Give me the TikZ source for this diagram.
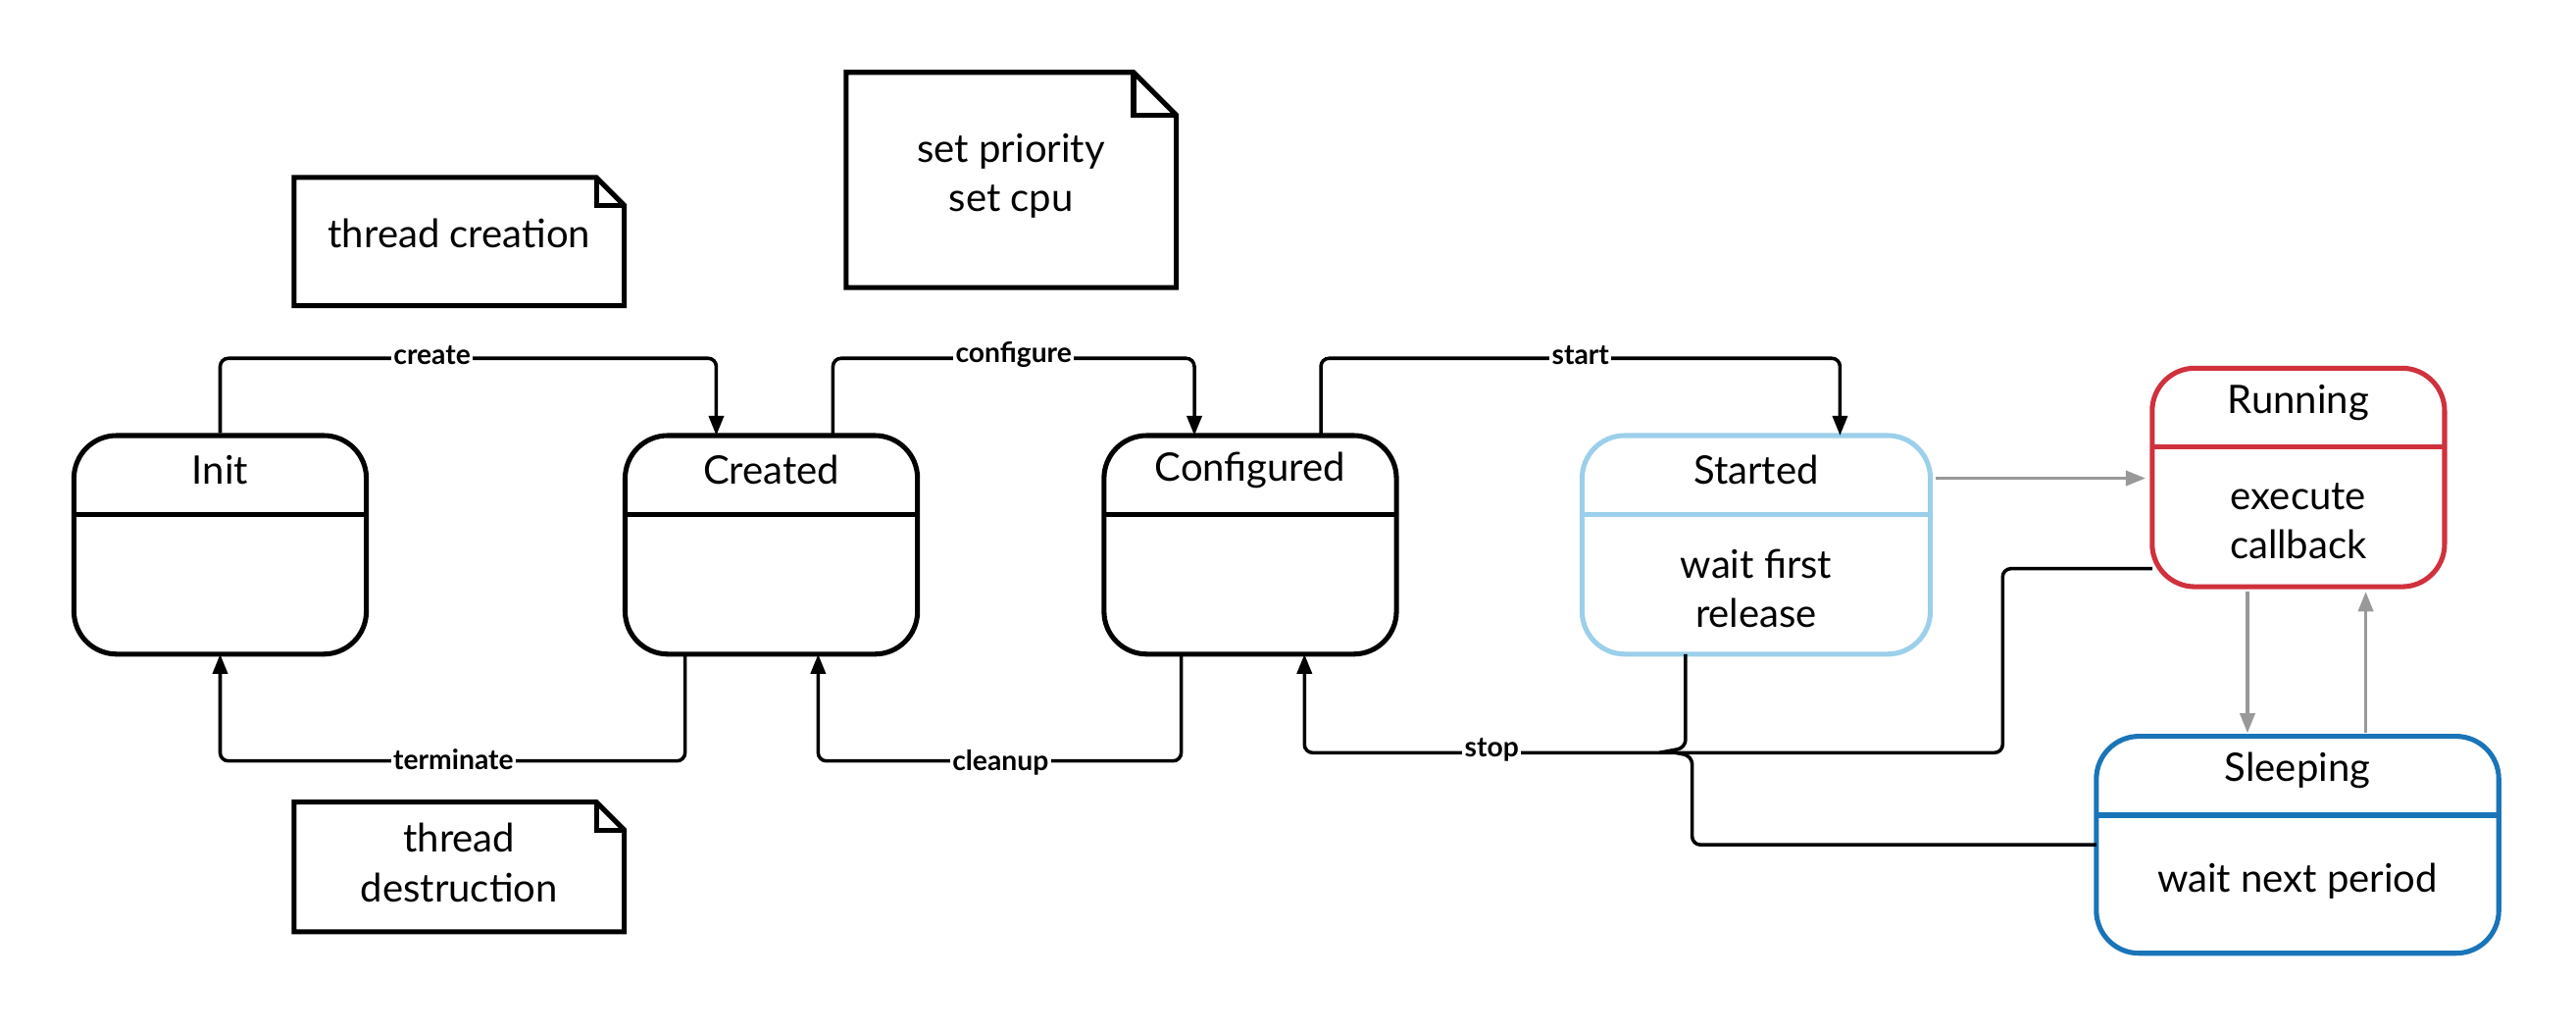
\documentclass[tikz,border=0pt]{standalone}
\usepackage{fontspec}
\setmainfont{Lato}
\usetikzlibrary{arrows.meta}
\definecolor{lblue}{HTML}{9CCFEA}
\definecolor{dblue}{HTML}{1A74B8}
\definecolor{rred}{HTML}{D0313D}
\definecolor{gline}{HTML}{999999}
\begin{document}
\begin{tikzpicture}[x=0.05cm,y=-0.05cm,
  box/.style={draw,line width=4.3pt,rounded corners=1.3cm,inner sep=0pt},
  ttl/.style={font=\fontsize{34}{40}\selectfont,inner sep=0pt},
  body/.style={font=\fontsize{34}{43}\selectfont,align=center,inner sep=0pt},
  edge/.style={line width=3pt,rounded corners=0.25cm,-{Triangle[length=0.6cm,width=0.45cm]}},
  plain/.style={line width=3pt,rounded corners=0.25cm},
  gedge/.style={line width=3pt,gline,-{Triangle[length=0.6cm,width=0.45cm]}},
  lbl/.style={font=\bfseries\fontsize{24}{28}\selectfont,fill=white,inner sep=2pt},
  note/.style={line width=4.3pt,line join=miter}]
\useasboundingbox (0,0) rectangle (1568,627);
% states
\node[box,minimum width=8.9cm,minimum height=6.65cm] (init) at (134,331.5) {};
\node[box,minimum width=8.9cm,minimum height=6.65cm] (created) at (469.5,331.5) {};
\node[box,minimum width=8.9cm,minimum height=6.65cm] (conf) at (761,331.5) {};
\node[box,draw=lblue,minimum width=10.6cm,minimum height=6.65cm] (started) at (1069,331.5) {};
\node[box,draw=rred,minimum width=8.9cm,minimum height=6.65cm] (running) at (1399,290.5) {};
\node[box,draw=dblue,minimum width=12.25cm,minimum height=6.6cm] (sleeping) at (1398.5,514) {};
\draw[line width=4.3pt] (45,313) -- (223,313) (381,313) -- (558,313) (672,313) -- (850,313);
\draw[line width=4.3pt,lblue] (963,313) -- (1175,313);
\draw[line width=4.3pt,rred] (1310,272) -- (1488,272);
\draw[line width=4.3pt,dblue] (1276,496) -- (1521,496);
\node[ttl] (tinit) at (134,286) {Init};
\node[ttl] (tcreated) at (469.5,286) {Created};
\node[ttl] (tconf) at (761,286) {Configured};
\node[ttl] (tstarted) at (1069,286) {Started};
\node[ttl] (trunning) at (1399,245) {Running};
\node[ttl] (tsleeping) at (1398.5,469) {Sleeping};
\node[body] (bstarted) at (1069,358) {wait first\\release};
\node[body] (brunning) at (1399,317) {execute\\callback};
\node[body] (bsleeping) at (1398.5,536) {wait next period};
% notes
\draw[note] (179,108) -- (363,108) -- (380,125) -- (380,186) -- (179,186) -- cycle;
\draw[note] (363,108) -- (363,125) -- (380,125);
\node[body] (n1) at (279.5,142) {thread creation};
\draw[note] (515,44) -- (690,44) -- (716,70) -- (716,175) -- (515,175) -- cycle;
\draw[note] (690,44) -- (690,70) -- (716,70);
\node[body] (n2) at (615.5,107) {set priority\\set cpu};
\draw[note] (179,488) -- (363,488) -- (380,505) -- (380,567) -- (179,567) -- cycle;
\draw[note] (363,488) -- (363,505) -- (380,505);
\node[body] (n3) at (279.5,525) {thread\\destruction};
% coordinates
\coordinate (c1) at (436,265);
\coordinate (c2) at (507,265);
\coordinate (c3) at (727,265);
\coordinate (c4) at (804,265);
\coordinate (c5) at (1120,265);
\coordinate (d1) at (417,398);
\coordinate (d2) at (134,398);
\coordinate (d3) at (719,398);
\coordinate (d4) at (498,398);
\coordinate (d5) at (794,398);
\coordinate (d6) at (1026,398);
\coordinate (r1) at (1310,346);
\coordinate (s1) at (1276,514);
% black edges
\draw[edge] (init.north) -- (134,218) -- (436,218) -- (c1);
\node[lbl] (lcreate) at (263,216) {create};
\draw[edge] (c2) -- (507,218) -- (727,218) -- (c3);
\node[lbl] (lconf) at (617,216) {configure};
\draw[edge] (c4) -- (804,218) -- (1120,218) -- (c5);
\node[lbl] (lstart) at (962,216) {start};
\draw[edge] (d1) -- (417,463) -- (134,463) -- (d2);
\node[lbl] (lterm) at (276,462) {terminate};
\draw[edge] (d3) -- (719,463) -- (498,463) -- (d4);
\node[lbl] (lclean) at (609,464) {cleanup};
\draw[edge] (r1) -- (1219,346) -- (1219,458) -- (794,458) -- (d5);
\draw[plain] (d6) -- (1026,455) -- (1010,458);
\draw[plain] (s1) -- (1030,514) -- (1030,460) -- (1020,458);
\node[lbl] (lstop) at (908,456) {stop};
% grey edges
\draw[gedge] (1178,291) -- (1306,291);
\draw[gedge] (1368,360) -- (1368,446);
\draw[gedge] (1440,446) -- (1440,360);
\end{tikzpicture}
\end{document}
